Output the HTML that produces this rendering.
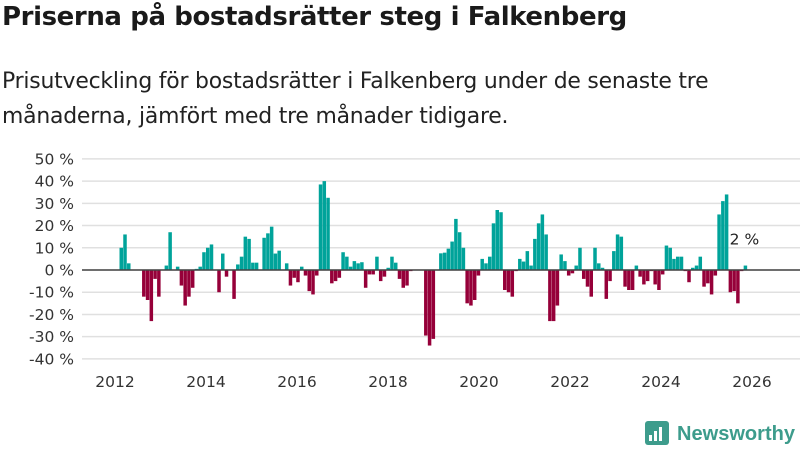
<!DOCTYPE html>
<html><head><meta charset="utf-8"><style>
body{margin:0;background:#fff;font-family:"Liberation Sans","DejaVu Sans",sans-serif;}
#wrap{position:relative;width:800px;height:450px;overflow:hidden;}
h1{position:absolute;left:2px;top:2px;margin:0;font-size:26px;font-weight:bold;color:#1a1a1a;font-family:"DejaVu Sans","Liberation Sans",sans-serif;letter-spacing:-0.4px}
p{position:absolute;left:2px;top:64px;margin:0;font-size:21.9px;line-height:35px;color:#222;font-family:"DejaVu Sans","Liberation Sans",sans-serif;letter-spacing:-0.2px}
</style></head><body><div id="wrap">
<h1>Priserna på bostadsrätter steg i Falkenberg</h1>
<p>Prisutveckling för bostadsrätter i Falkenberg under de senaste tre<br>månaderna, jämfört med tre månader tidigare.</p>
<svg id="chart" width="800" height="450" style="position:absolute;left:0;top:0"></svg>
</div>
<script>
const values=[10,16,3,0,0,0,-12,-13.5,-23,-4,-12,0,2,17,0,1.5,-7,-16,-12,-8,0.5,1.5,8,10,11.5,0,-10,7.4,-3,0,-13,2.5,6,15,14,3.3,3.3,0,14.5,16.5,19.5,7.4,8.7,0,3,-7,-3.5,-5.5,1.5,-2.5,-9.5,-11,-2.5,38.5,40,32.5,-6,-5,-3.5,8,6,1.5,4,3,3.5,-8,-2,-2,6,-5,-3,1,6,3.3,-4,-8,-7,-0.5,0,0,0,-29.5,-34,-31,0,7.5,7.8,9.6,12.8,23,17,10,-15,-16,-13.5,-2.5,5,3,6,21,27,26,-9,-10,-12,-0.5,5,3.8,8.5,2,14,21,25,16,-23,-23,-16,7,4,-2.5,-1.5,2,10,-4,-7.5,-12,10,3,1,-13,-5,8.5,16,15,-7.5,-9,-9,2,-3,-6.5,-5,-0.5,-6.5,-9,-2,11,10,5,6,6,-0.5,-5.5,1,2,6,-7.5,-6,-11,-2.5,25,31,34,-10,-9.5,-15,-0.5,2];
const yTicks=[50,40,30,20,10,0,-10,-20,-30,-40];
const xTicks=[2012,2014,2016,2018,2020,2022,2024,2026];
const lastLabel="2 %";
const NS="http://www.w3.org/2000/svg";
const svg=document.getElementById('chart');
function y(v){return 270-v*2.222;}
function xi(i){return 119.5+i*3.76;}
function xYear(yr){return 115+(yr-2012)*45.5;}
function mk(t,a){const e=document.createElementNS(NS,t);for(const k in a)e.setAttribute(k,a[k]);svg.appendChild(e);return e;}
yTicks.forEach(v=>{
 const g=mk('line',{x1:82,x2:800,y1:y(v),y2:y(v),stroke:'#e0e0e0','stroke-width':1.5});
 
 
 const t=mk('text',{x:74,y:y(v)+5.5,'text-anchor':'end','font-size':15.5,fill:'#333','font-family':'DejaVu Sans, Liberation Sans, sans-serif'});
 t.textContent=v+' %';
 
 
});
values.forEach((v,i)=>{
 const r=mk('rect',{x:xi(i),width:3.5,y:Math.min(y(v),270),height:Math.abs(y(v)-270),fill:v>=0?'#00a39a':'#960039'});
 
 
});
const ax=mk('line',{x1:82,x2:800,y1:270,y2:270,stroke:'#444','stroke-width':1.5});


xTicks.forEach(yr=>{
 const t=mk('text',{x:xYear(yr),y:387,'text-anchor':'middle','font-size':15.5,fill:'#333','font-family':'DejaVu Sans, Liberation Sans, sans-serif'});
 t.textContent=yr;
 
 
});
const ll=mk('text',{x:xi(values.length-1)-14,y:y(values[values.length-1])-21,'font-size':15.5,fill:'#222','font-family':'DejaVu Sans, Liberation Sans, sans-serif',stroke:'#fff','stroke-width':3,'paint-order':'stroke'});
ll.textContent=lastLabel;


const lg=mk('g',{});


const bg=document.createElementNS(NS,'rect');
[['x',645],['y',421],['width',24],['height',24],['rx',3],['fill','#3d9c8c']].forEach(a=>bg.setAttribute(a[0],a[1]));lg.appendChild(bg);
[[649,435,3,6],[654,431,3,10],[659,427,3,14]].forEach(b=>{const r=document.createElementNS(NS,'rect');r.setAttribute('x',b[0]);r.setAttribute('y',b[1]);r.setAttribute('width',b[2]);r.setAttribute('height',b[3]);r.setAttribute('fill','#fff');lg.appendChild(r);});
const lt=document.createElementNS(NS,'text');
lt.setAttribute('x',677);lt.setAttribute('y',440);lt.setAttribute('font-size',20);lt.setAttribute('font-weight','bold');lt.setAttribute('fill','#3d9c8c');lt.setAttribute('font-family','Liberation Sans, DejaVu Sans, sans-serif');lt.setAttribute('textLength',118);lt.setAttribute('lengthAdjust','spacingAndGlyphs');
lt.textContent='Newsworthy';lg.appendChild(lt);
</script></body></html>
